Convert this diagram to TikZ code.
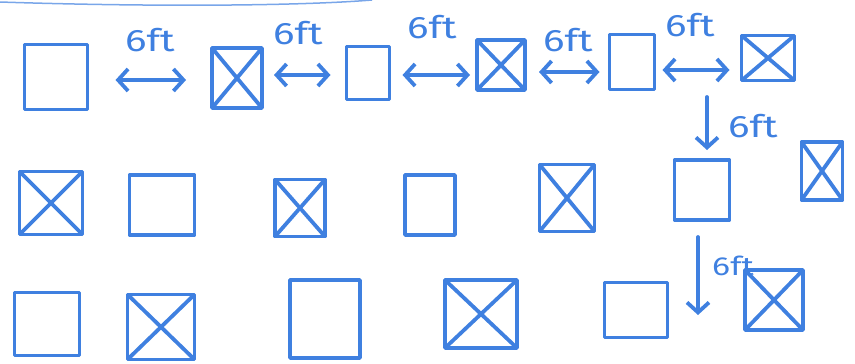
\documentclass[tikz,border=0pt]{standalone}
\usepackage{fontspec}
\setmainfont{Fira Sans}
\usetikzlibrary{arrows.meta}
\definecolor{ink}{HTML}{3F80E0}
\tikzset{
  pen/.style={draw=ink, line width=3.8pt, line cap=round, line join=round},
  pbox/.style={pen, inner sep=0pt, outer sep=0pt},
  xbox/.style={pen, inner sep=0pt, outer sep=0pt,
    path picture={\draw[ink, line width=3.8pt]
      (path picture bounding box.north west) -- (path picture bounding box.south east)
      (path picture bounding box.north east) -- (path picture bounding box.south west);}},
  dim/.style={pen, {Straight Barb[length=10pt,width=22pt]}-{Straight Barb[length=10pt,width=22pt]}},
  vdim/.style={pen, -{Straight Barb[length=10pt,width=22pt]}},
  lbl/.style={text=ink, font=\fontsize{31}{31}\selectfont, xscale=1.3, transform shape, inner sep=0pt}
}
\begin{document}
\begin{tikzpicture}[x=1pt, y=-1pt]
\useasboundingbox (0,0) rectangle (855,364);
% faint stroke at top
\draw[ink!70, line width=1.5pt] (0,2) .. controls (150,7) and (300,6) .. (372,0);
% row 1
\node[pbox, minimum width=63pt, minimum height=65pt] (A) at (56,77) {};
\node[xbox, minimum width=50pt, minimum height=60pt] (B) at (237,78) {};
\node[pbox, minimum width=43pt, minimum height=53pt] (C) at (368,73) {};
\node[xbox, minimum width=48pt, minimum height=50pt] (D) at (501,65) {};
\node[pbox, minimum width=45pt, minimum height=55pt] (E) at (632,62) {};
\node[xbox, minimum width=53pt, minimum height=45pt] (F) at (768,58) {};
% row 2
\node[xbox, minimum width=63pt, minimum height=63pt] (G) at (51,203) {};
\node[pbox, minimum width=65pt, minimum height=60pt] (H) at (162,205) {};
\node[xbox, minimum width=50pt, minimum height=57pt] (I) at (300,208) {};
\node[pbox, minimum width=50pt, minimum height=60pt] (J) at (430,205) {};
\node[xbox, minimum width=55pt, minimum height=67pt] (K) at (567,198) {};
\node[pbox, minimum width=55pt, minimum height=60pt] (L) at (702,190) {};
\node[xbox, minimum width=41pt, minimum height=58pt] (M) at (822,171) {};
% row 3
\node[pbox, minimum width=65pt, minimum height=63pt] (N) at (47,324) {};
\node[xbox, minimum width=67pt, minimum height=65pt] (O) at (161,327) {};
\node[pbox, minimum width=70pt, minimum height=78pt] (P) at (325,319) {};
\node[xbox, minimum width=72pt, minimum height=68pt] (Q) at (481,314) {};
\node[pbox, minimum width=63pt, minimum height=55pt] (R) at (636,310) {};
\node[xbox, minimum width=58pt, minimum height=60pt] (S) at (774,300) {};
% horizontal dimensions (yshift is upward on the page)
\draw[dim, shorten <=28pt, shorten >=26pt] ([yshift=-3pt]A.east) -- ([yshift=-3pt]A.east -| B.west);
\draw[dim, shorten <=12pt, shorten >=16pt] ([yshift=3pt]B.east) -- ([yshift=3pt]B.east -| C.west);
\draw[dim, shorten <=13pt, shorten >=7pt] ([yshift=-2pt]C.east) -- ([yshift=-2pt]C.east -| D.west);
\draw[dim, shorten <=14pt, shorten >=10pt] ([yshift=-7pt]D.east) -- ([yshift=-7pt]D.east -| E.west);
\draw[dim, shorten <=8pt, shorten >=12pt] ([yshift=-8pt]E.east) -- ([yshift=-8pt]E.east -| F.west);
% vertical dimensions
\coordinate (v1) at (707,97);
\draw[vdim, shorten >=10pt] (v1) -- (L.north -| v1);
\coordinate (v2) at (698,237);
\coordinate (v2e) at (698,315);
\draw[vdim] (v2) -- (v2e);
% labels
\node[lbl] (l1) at (150,40) {6ft};
\node[lbl] (l2) at (298,33) {6ft};
\node[lbl] (l3) at (432,27) {6ft};
\node[lbl] (l4) at (568,40) {6ft};
\node[lbl] (l5) at (690,25) {6ft};
\node[lbl] (l6) at (753,126) {6ft};
\node[lbl, font=\fontsize{26}{26}\selectfont, xscale=1.0] (l7) at (733,266) {6ft};
\end{tikzpicture}
\end{document}
